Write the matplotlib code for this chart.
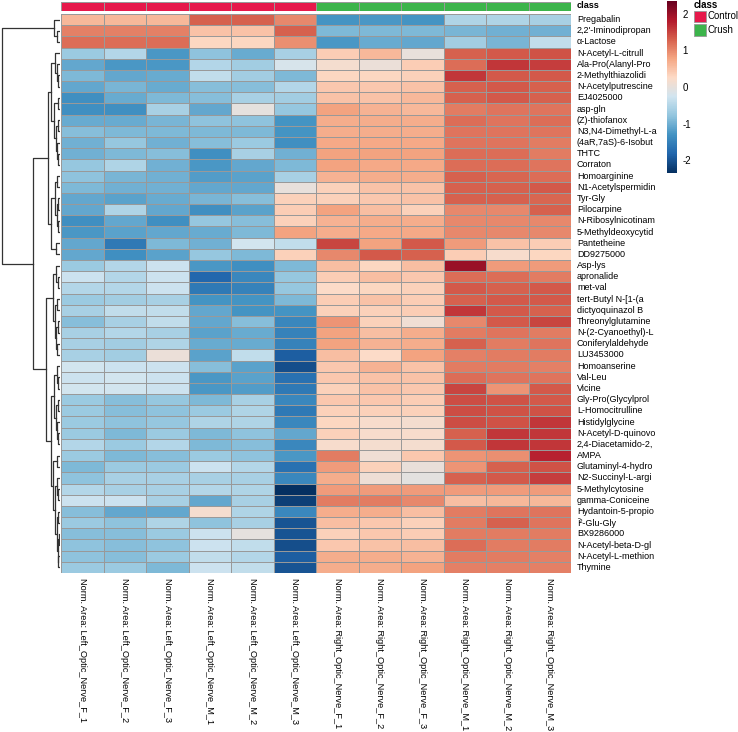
import matplotlib
matplotlib.use("Agg")
import matplotlib.pyplot as plt
import numpy as np
from matplotlib.colors import LinearSegmentedColormap, ListedColormap
from matplotlib.patches import Rectangle

plt.rcParams['font.family'] = ['Liberation Sans', 'DejaVu Sans']
plt.rcParams['axes.unicode_minus'] = False

# metabolites in displayed (clustered) order
metabolites = [
    "Pregabalin", "2,2'-Iminodipropan", "α-Lactose", "N-Acetyl-L-citrull",
    "Ala-Pro(Alanyl-Pro", "2-Methylthiazolidi", "N-Acetylputrescine", "EJ4025000",
    "asp-gln", "(Z)-thiofanox", "N3,N4-Dimethyl-L-a", "(4aR,7aS)-6-Isobut",
    "THTC", "Corraton", "Homoarginine", "N1-Acetylspermidin", "Tyr-Gly",
    "Pilocarpine", "N-Ribosylnicotinam", "5-Methyldeoxycytid", "Pantetheine",
    "DD9275000", "Asp-lys", "apronalide", "met-val", "tert-Butyl N-[1-(a",
    "dictyoquinazol B", "Threonylglutamine", "N-(2-Cyanoethyl)-L",
    "Coniferylaldehyde", "LU3453000", "Homoanserine", "Val-Leu", "Vicine",
    "Gly-Pro(Glycylprol", "L-Homocitrulline", "Histidylglycine",
    "N-Acetyl-D-quinovo", "2,4-Diacetamido-2,", "AMPA", "Glutaminyl-4-hydro",
    "N2-Succinyl-L-argi", "5-Methylcytosine", "gamma-Coniceine",
    "Hydantoin-5-propio", "Î²-Glu-Gly", "BX9286000", "N-Acetyl-beta-D-gl",
    "N-Acetyl-L-methion", "Thymine",
]

samples = [
    "Norm. Area: Left_Optic_Nerve_F_1", "Norm. Area: Left_Optic_Nerve_F_2",
    "Norm. Area: Left_Optic_Nerve_F_3", "Norm. Area: Left_Optic_Nerve_M_1",
    "Norm. Area: Left_Optic_Nerve_M_2", "Norm. Area: Left_Optic_Nerve_M_3",
    "Norm. Area: Right_Optic_Nerve_F_1", "Norm. Area: Right_Optic_Nerve_F_2",
    "Norm. Area: Right_Optic_Nerve_F_3", "Norm. Area: Right_Optic_Nerve_M_1",
    "Norm. Area: Right_Optic_Nerve_M_2", "Norm. Area: Right_Optic_Nerve_M_3",
]
sample_class = ["Control"] * 6 + ["Crush"] * 6

# scaled values, one list per sample (rows follow `metabolites`)
left_F1 = [0.6, 1.05, 1.2, -0.7, -1.1, -0.9, -1.1, -1.35, -1.35, -1.05, -0.85, -1.0, -1.0, -0.75, -0.8, -0.9, -1.1, -1.1, -1.35, -1.25, -1.1, -1.1, -0.7, -0.3, -0.5, -0.7, -0.6, -0.85, -0.6, -0.6, -0.6, -0.25, -0.3, -0.25, -0.7, -0.7, -0.7, -0.7, -0.5, -0.7, -0.9, -0.8, -0.5, -0.3, -0.85, -0.7, -0.85, -0.8, -0.8, -0.7]
left_F2 = [0.6, 1.05, 1.2, -0.5, -1.25, -1.1, -0.95, -1.05, -1.35, -1.05, -0.9, -0.75, -0.9, -0.55, -0.95, -1.0, -1.15, -0.55, -1.1, -1.15, -1.6, -1.35, -0.5, -0.5, -0.5, -0.65, -0.4, -0.6, -0.5, -0.65, -0.65, -0.3, -0.25, -0.25, -0.85, -0.85, -0.8, -0.9, -0.7, -0.9, -0.7, -0.6, -0.6, -0.3, -1.1, -0.8, -0.85, -0.85, -0.85, -0.7]
left_F3 = [0.6, 1.05, 1.2, -1.25, -1.25, -1.05, -1.05, -0.9, -0.6, -0.95, -0.9, -1.0, -0.85, -1.0, -1.0, -1.0, -1.05, -1.1, -1.35, -1.1, -0.9, -1.15, -0.3, -0.3, -0.3, -0.6, -0.4, -0.4, -0.6, -0.55, 0.05, -0.3, -0.3, -0.3, -0.75, -0.8, -0.75, -0.7, -0.5, -0.85, -0.7, -0.6, -0.6, -0.6, -1.1, -0.55, -0.7, -0.8, -0.7, -0.9]
left_M1 = [1.3, 0.5, 0.3, -0.8, -0.5, -0.4, -0.85, -0.85, -1.1, -0.8, -0.9, -0.85, -1.35, -1.25, -1.2, -1.1, -0.95, -1.35, -0.75, -1.05, -1.0, -0.75, -1.25, -1.8, -1.6, -1.3, -1.1, -1.1, -1.15, -1.05, -1.15, -0.85, -1.25, -1.25, -0.9, -0.7, -0.55, -0.9, -0.9, -0.7, -0.3, -0.6, -0.5, -1.1, 0.15, -0.8, -0.3, -0.3, -0.4, -0.3]
left_M2 = [1.3, 0.5, 0.3, -1.05, -0.65, -0.65, -0.85, -0.6, -0.02, -0.8, -0.9, -0.7, -0.6, -1.1, -1.15, -1.1, -0.85, -1.15, -0.85, -0.9, -0.25, -0.9, -1.35, -1.45, -1.5, -1.3, -1.3, -0.85, -1.05, -1.05, -0.4, -1.15, -1.15, -1.2, -0.6, -0.55, -0.55, -0.8, -0.85, -0.8, -0.5, -0.6, -0.55, -0.6, -0.55, -0.6, -0.02, -0.4, -0.5, -0.4]
left_M3 = [1.0, 1.3, 0.95, -0.6, -0.2, -0.9, -0.5, -0.65, -0.75, -1.3, -1.3, -1.35, -1.0, -0.9, -0.6, 0.0, 0.35, 0.4, 0.35, 0.8, -0.4, 0.35, -0.9, -0.75, -0.75, -0.9, -1.3, -1.45, -1.5, -1.5, -1.9, -2.05, -1.7, -1.6, -1.45, -1.6, -1.45, -1.1, -1.45, -1.25, -1.7, -1.45, -2.35, -2.2, -1.45, -2.0, -2.0, -2.05, -1.9, -2.0]
right_F1 = [-1.3, -0.9, -1.25, 0.4, 0.15, 0.3, 0.45, 0.5, 0.8, 0.7, 0.7, 0.75, 0.8, 0.8, 0.65, 0.35, 0.35, 0.8, 0.65, 0.7, 1.5, 1.0, 0.55, 0.4, 0.25, 0.4, 0.35, 0.9, 0.8, 0.8, 0.55, 0.45, 0.45, 0.35, 0.45, 0.35, 0.3, 0.35, 0.2, 1.1, 0.85, 0.7, 0.85, 1.1, 0.7, 0.55, 0.35, 0.45, 0.7, 0.7]
right_F2 = [-1.25, -0.9, -1.05, 0.6, 0.05, 0.3, 0.45, 0.5, 0.65, 0.7, 0.7, 0.75, 0.8, 0.75, 0.7, 0.5, 0.45, 0.55, 0.7, 0.75, 0.8, 1.35, 0.3, 0.55, 0.3, 0.5, 0.35, 0.35, 0.55, 0.65, 0.25, 0.65, 0.5, 0.5, 0.45, 0.35, 0.2, 0.2, 0.15, 0.1, 0.35, 0.08, 0.85, 1.1, 0.7, 0.45, 0.45, 0.5, 0.7, 0.7]
right_F3 = [-1.3, -0.9, -1.1, 0.0, 0.4, 0.35, 0.5, 0.6, 0.6, 0.7, 0.7, 0.75, 0.8, 0.75, 0.7, 0.5, 0.5, 0.35, 0.7, 0.75, 1.35, 1.3, 0.55, 0.45, 0.35, 0.4, 0.4, 0.1, 0.7, 0.7, 0.8, 0.5, 0.5, 0.45, 0.4, 0.35, 0.15, 0.2, 0.15, 0.45, 0.02, -0.05, 0.85, 1.0, 0.55, 0.35, 0.4, 0.55, 0.65, 0.8]
right_M1 = [-0.55, -0.95, -0.65, 1.3, 1.2, 1.6, 1.3, 1.3, 1.1, 1.2, 1.15, 1.15, 1.2, 1.2, 1.3, 1.3, 1.3, 1.0, 1.0, 1.0, 0.85, 0.4, 2.0, 1.2, 1.35, 1.3, 1.6, 1.0, 1.1, 1.3, 1.05, 1.1, 1.2, 1.5, 1.45, 1.45, 1.45, 1.3, 1.35, 0.9, 0.9, 1.3, 0.85, 0.55, 1.1, 1.1, 1.1, 1.2, 1.1, 1.05]
right_M2 = [-0.55, -1.0, -0.95, 1.35, 1.6, 1.35, 1.35, 1.35, 1.15, 1.15, 1.15, 1.15, 1.2, 1.2, 1.25, 1.3, 1.3, 1.0, 1.0, 1.0, 0.5, 0.2, 0.85, 1.2, 1.3, 1.35, 1.35, 1.35, 1.15, 1.1, 1.1, 1.1, 1.15, 0.9, 1.4, 1.4, 1.4, 1.6, 1.6, 0.95, 1.3, 1.35, 0.85, 0.6, 1.15, 1.3, 1.1, 1.1, 1.1, 1.05]
right_M3 = [-0.6, -1.0, -0.4, 1.4, 1.55, 1.35, 1.3, 1.3, 1.15, 1.2, 1.15, 1.1, 1.1, 1.15, 1.2, 1.35, 1.25, 1.3, 1.0, 1.0, 0.4, 0.3, 0.85, 1.1, 1.35, 1.35, 1.3, 1.5, 1.1, 1.15, 1.1, 1.05, 1.15, 1.35, 1.35, 1.4, 1.6, 1.6, 1.6, 1.75, 1.4, 1.55, 0.85, 0.6, 1.15, 1.15, 1.1, 1.1, 1.05, 1.05]

# row dendrogram: (height, left, right), leaves are row indices
row_tree = (1.0,
    (0.10, 0, (0.05, 1, 2)),
    (0.47,
        (0.20,
            (0.15, (0.08, 3, (0.06, 4, (0.04, 5, 6))),
                   (0.10, (0.04, 7, 8), (0.07, (0.04, 9, 10), (0.05, 11, (0.03, 12, 13))))),
            (0.15, (0.08, (0.05, 14, 15), (0.06, (0.04, 16, 17), (0.04, 18, 19))),
                   (0.07, 20, 21))),
        (0.25,
            (0.12, (0.07, 22, (0.04, 23, 24)),
                   (0.09, (0.05, 25, 26), (0.07, (0.04, 27, 28), (0.05, 29, 30)))),
            (0.15, (0.10, (0.06, 31, (0.04, 32, 33)),
                          (0.07, (0.04, 34, 35), (0.05, 36, (0.03, 37, 38)))),
                   (0.12, (0.05, 39, 40),
                          (0.08, (0.05, 41, (0.03, 42, 43)),
                                 (0.06, (0.03, 44, 45), (0.04, (0.02, 46, 47), (0.03, 48, 49)))))))))

values = np.column_stack([left_F1, left_F2, left_F3, left_M1, left_M2, left_M3,
                          right_F1, right_F2, right_F3, right_M1, right_M2, right_M3])

rdbu = ["#67001F", "#B2182B", "#D6604D", "#F4A582", "#FDDBC7",
        "#D1E5F0", "#92C5DE", "#4393C3", "#2166AC", "#053061"]
cmap = LinearSegmentedColormap.from_list("rdbu_r", rdbu[::-1], N=256)
class_colors = {"Control": "#E6194B", "Crush": "#3CB44B"}
grid = "#999999"

W, H = 738, 732
fig = plt.figure(figsize=(W / 100, H / 100), dpi=100)


def px_axes(x0, y0, x1, y1):
    return fig.add_axes([x0 / W, 1 - y1 / H, (x1 - x0) / W, (y1 - y0) / H])


n_rows, n_cols = values.shape

# heatmap
ax = px_axes(61, 14, 571, 573)
mesh = ax.pcolormesh(values, cmap=cmap, vmin=-2.35, vmax=2.35,
                     edgecolors=grid, linewidth=0.6)
ax.set_xlim(0, n_cols)
ax.set_ylim(n_rows, 0)
ax.axis("off")
for i, name in enumerate(metabolites):
    ax.text(n_cols + 0.14, i + 0.5, name, va="center", ha="left",
            fontsize=6.5, clip_on=False)
for j, s in enumerate(samples):
    ax.text(j + 0.5, n_rows + 0.45, s, rotation=-90, va="top", ha="center",
            fontsize=6.6, clip_on=False)

# class annotation bar
cls_idx = [list(class_colors).index(c) for c in sample_class]
axc = px_axes(61, 1.5, 571, 10.5)
axc.pcolormesh([cls_idx], cmap=ListedColormap(list(class_colors.values())),
               vmin=-0.5, vmax=1.5, edgecolors=grid, linewidth=0.6)
axc.set_xlim(0, n_cols)
axc.axis("off")
axc.text(n_cols + 0.14, 0.5, "class", va="center", ha="left",
         fontsize=6.6, fontweight="bold", clip_on=False)

# row dendrogram
axd = px_axes(0, 14, 60, 573)


def draw_node(node):
    if isinstance(node, int):
        return node + 0.5, 0.0
    h, left, right = node
    yl, hl = draw_node(left)
    yr, hr = draw_node(right)
    axd.plot([hl, h, h, hr], [yl, yl, yr, yr], color="#333333", lw=0.9)
    return (yl + yr) / 2, h


draw_node(row_tree)
axd.set_xlim(1.035, 0)
axd.set_ylim(n_rows, 0)
axd.axis("off")

# colour key
cax = px_axes(667, 1, 677, 173)
cb = fig.colorbar(mesh, cax=cax, ticks=[-2, -1, 0, 1, 2])
cb.outline.set_visible(False)
cax.tick_params(length=0, pad=4, labelsize=7)

# class legend
axl = px_axes(0, 0, W, H)
axl.set_xlim(0, W)
axl.set_ylim(H, 0)
axl.axis("off")
axl.text(694, 5.5, "class", fontsize=7, fontweight="bold", va="center", ha="left")
for k, (lab, col) in enumerate(class_colors.items()):
    y0 = 10.5 + k * 13.5
    axl.add_patch(Rectangle((694, y0), 12, 11.5, facecolor=col,
                            edgecolor=grid, lw=0.6))
    axl.text(708, y0 + 5.8, lab, fontsize=6.9, va="center", ha="left")

fig.savefig("out.png", dpi=100)
